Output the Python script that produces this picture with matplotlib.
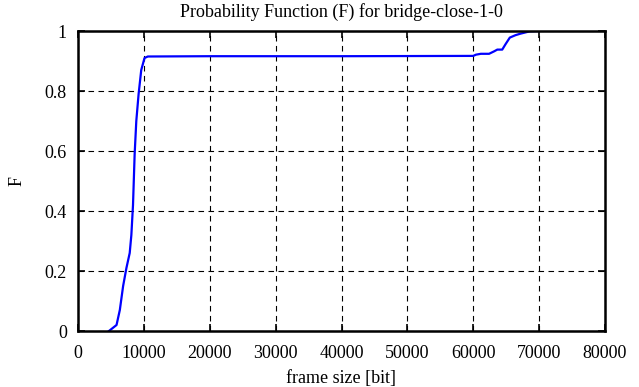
import numpy as np
from matplotlib import pyplot as plt

plt.rcParams['font.family'] = ['Liberation Serif', 'DejaVu Serif']

frame_size = [4700, 5850, 6350, 6850, 7350, 7850, 8100, 8350, 8600, 8850, 9200, 9600,
              10100, 10600, 20000, 40000, 60000, 60400, 61150, 62400, 63150, 63650,
              64400, 64900, 65550, 66400, 67150, 68600, 70000]
prob = [0.0, 0.02, 0.07, 0.15, 0.21, 0.26, 0.32, 0.42, 0.59, 0.70, 0.79, 0.87,
        0.91, 0.915, 0.916, 0.916, 0.917, 0.921, 0.924, 0.924, 0.932, 0.938,
        0.938, 0.956, 0.978, 0.986, 0.991, 0.999, 1.0]

x_ticks = [0, 10000, 20000, 30000, 40000, 50000, 60000, 70000, 80000]
y_ticks = [0, 0.2, 0.4, 0.6, 0.8, 1]
y_labels = ['0', '0.2', '0.4', '0.6', '0.8', '1']

fig = plt.figure(figsize=(6.39, 3.87), dpi=100)
ax = fig.add_axes([78/639, 56/387, 527/639, 300/387])
ax.plot(frame_size, prob, color='#0000ff', lw=1.6)

ax.set_xlim(0, 80000)
ax.set_ylim(0, 1)
ax.set_xticks(x_ticks)
ax.set_xticklabels([str(t) for t in x_ticks])
ax.set_yticks(y_ticks)
ax.set_yticklabels(y_labels)
ax.tick_params(direction='in', top=True, right=True, length=5, width=1.2,
               labelsize=13)
ax.tick_params(axis='x', pad=10)
ax.tick_params(axis='y', pad=8)
ax.grid(True, color='black', linestyle=(0, (5, 4)), linewidth=0.8)
for s in ax.spines.values():
    s.set_linewidth(1.8)

ax.set_title('Probability Function (F) for bridge-close-1-0', fontsize=13, pad=10)
ax.set_xlabel('frame size [bit]', fontsize=13, labelpad=6)
ax.set_ylabel('F', fontsize=13, labelpad=14)

fig.savefig('out.png', dpi=100)
